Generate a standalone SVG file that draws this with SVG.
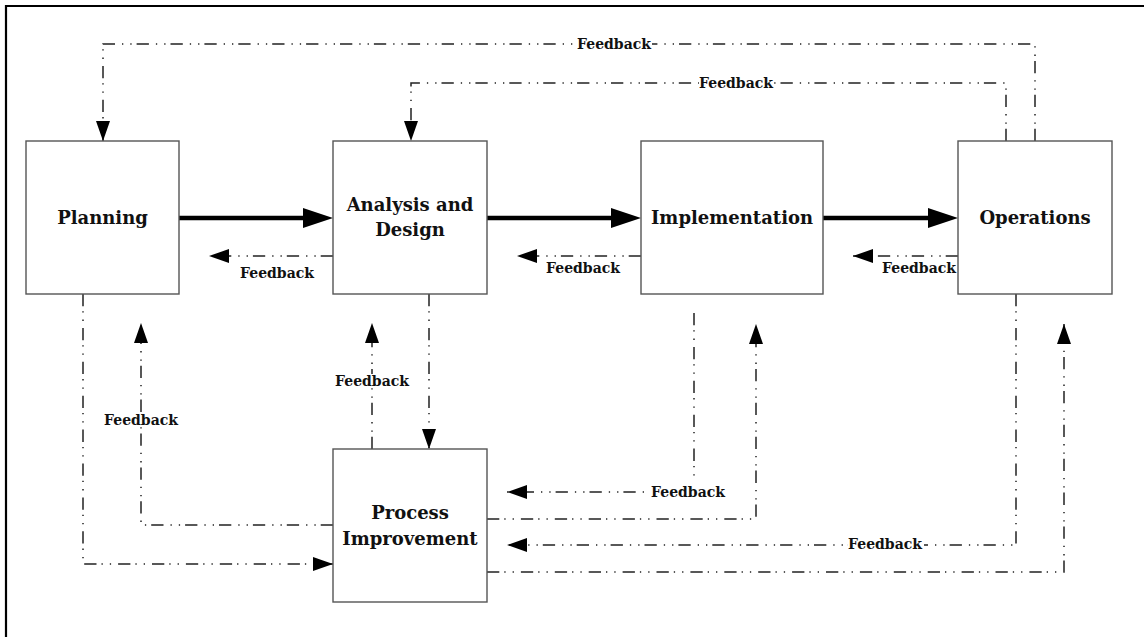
<svg xmlns="http://www.w3.org/2000/svg" width="1144" height="637" viewBox="0 0 1144 637">
<style>
.box{fill:#fff;stroke:#555;stroke-width:1.4}
.t{font-family:"DejaVu Serif","Liberation Serif",serif;font-weight:bold;font-size:18px;fill:#111;text-anchor:middle}
.fb{font-family:"DejaVu Serif","Liberation Serif",serif;font-weight:bold;font-size:14px;fill:#111;text-anchor:middle}
.dl{fill:none;stroke:#222;stroke-width:1.5;stroke-dasharray:12.3 5 1.3 7 1.3 7}
.thick{stroke:#000;stroke-width:4.5;stroke-linecap:round}
.bg{fill:#fff}
</style>
<defs>
<marker id="ah" viewBox="0 0 20 14" refX="20" refY="7" markerWidth="20" markerHeight="14" markerUnits="userSpaceOnUse" orient="auto">
<path d="M0,0 L20,7 L0,14 z" fill="#000"/>
</marker>
</defs>
<rect width="1144" height="637" fill="#fff"/>
<path d="M6,637 V6 H1144" fill="none" stroke="#000" stroke-width="2.2"/>
<g id="connectors">
<path class="dl" d="M1035,141 V44 H103 V141" marker-end="url(#ah)"/>
<path class="dl" d="M1006,141 V83 H411 V141" marker-end="url(#ah)"/>
<path class="dl" d="M333,256 H209" marker-end="url(#ah)"/>
<path class="dl" d="M641,256 H517" marker-end="url(#ah)"/>
<path class="dl" d="M958,256 H853" marker-end="url(#ah)"/>
<path class="dl" d="M83,294 V564 H333" marker-end="url(#ah)"/>
<path class="dl" d="M333,525 H141 V323" marker-end="url(#ah)"/>
<path class="dl" d="M429,294 V449" marker-end="url(#ah)"/>
<path class="dl" d="M372,449 V323" marker-end="url(#ah)"/>
<path class="dl" d="M694,313 V492 H507" marker-end="url(#ah)"/>
<path class="dl" d="M487,519 H756 V324" marker-end="url(#ah)"/>
<path class="dl" d="M1016,294 V545 H507" marker-end="url(#ah)"/>
<path class="dl" d="M487,572 H1064 V324" marker-end="url(#ah)"/>
<line class="thick" x1="179" y1="218" x2="306" y2="218"/>
<polygon points="333,218 303,208 303,228" fill="#000"/>
<line class="thick" x1="487" y1="218" x2="614" y2="218"/>
<polygon points="641,218 611,208 611,228" fill="#000"/>
<line class="thick" x1="823" y1="218" x2="931" y2="218"/>
<polygon points="958,218 928,208 928,228" fill="#000"/>
<g id="labels">
<rect class="bg" x="577" y="37" width="75" height="14"/>
<text class="fb" x="614" y="49">Feedback</text>
<rect class="bg" x="699" y="76" width="75" height="14"/>
<text class="fb" x="736" y="88">Feedback</text>
<text class="fb" x="277" y="278">Feedback</text>
<text class="fb" x="583" y="273">Feedback</text>
<text class="fb" x="919" y="273">Feedback</text>
<rect class="bg" x="103" y="413" width="76" height="14"/>
<text class="fb" x="141" y="425">Feedback</text>
<rect class="bg" x="334" y="374" width="76" height="14"/>
<text class="fb" x="372" y="386">Feedback</text>
<rect class="bg" x="651" y="480" width="76" height="16"/>
<text class="fb" x="688" y="497">Feedback</text>
<rect class="bg" x="848" y="537" width="76" height="14"/>
<text class="fb" x="885" y="549">Feedback</text>
</g>
</g>
<g id="planning">
<rect class="box" x="26" y="141" width="153" height="153"/>
<text class="t" x="102.5" y="224">Planning</text>
</g>
<g id="analysis">
<rect class="box" x="333" y="141" width="154" height="153"/>
<text class="t" x="410" y="211">Analysis and</text>
<text class="t" x="410" y="236">Design</text>
</g>
<g id="implementation">
<rect class="box" x="641" y="141" width="182" height="153"/>
<text class="t" x="732" y="224">Implementation</text>
</g>
<g id="operations">
<rect class="box" x="958" y="141" width="154" height="153"/>
<text class="t" x="1035" y="224">Operations</text>
</g>
<g id="process-improvement">
<rect class="box" x="333" y="449" width="154" height="153"/>
<text class="t" x="410" y="519">Process</text>
<text class="t" x="410" y="545">Improvement</text>
</g>
</svg>
